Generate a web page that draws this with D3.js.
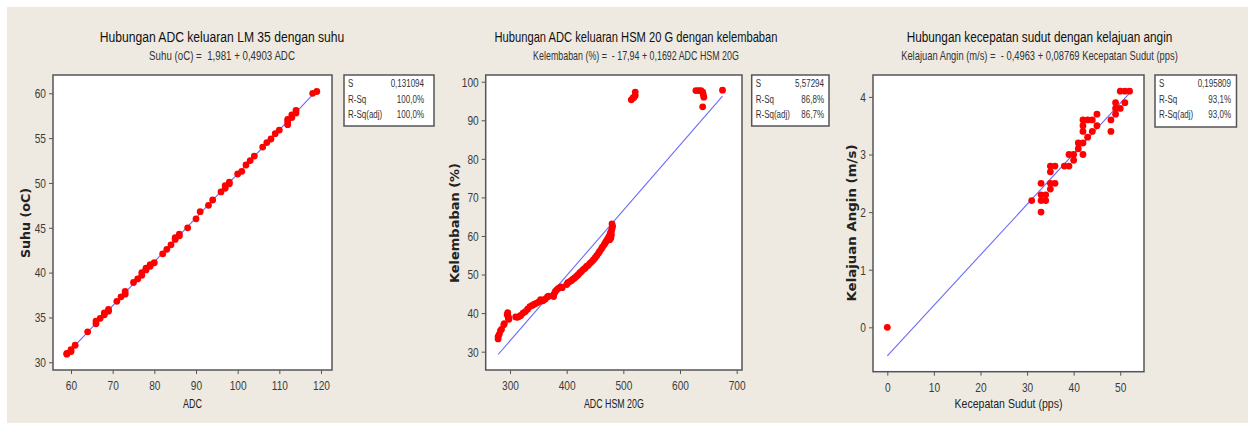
<!DOCTYPE html>
<html><head><meta charset="utf-8">
<script src="https://cdn.jsdelivr.net/npm/d3@7"></script>
<style>
html,body{margin:0;padding:0;background:#fff;}
svg{display:block;}
text.pre{white-space:pre;}
</style></head>
<body>
<svg id="c" width="1248" height="423"></svg>
<script>
// ---------- DATA ----------
// Panel 1: ADC LM35 vs Suhu
const adcLM35 = [59,59,60,60,61,64,66,66,67,68,68,69,69,71,72,73,73,75,76,77,77,78,78,79,79,80,82,83,84,85,85,86,86,88,90,91,93,94,96,97,97,98,98,100,101,102,103,104,106,107,108,109,110,112,112,112,113,113,114,114,118,119];
const suhu    = [30.9,31.0,31.2,31.4,31.9,33.4,34.3,34.6,34.9,35.3,35.5,35.7,35.9,36.8,37.3,37.6,37.9,38.9,39.3,39.7,40.0,40.3,40.5,40.7,40.9,41.1,42.1,42.6,43.1,43.7,43.9,44.1,44.3,45.0,46.0,46.8,47.5,48.1,49.0,49.4,49.7,49.9,50.1,51.0,51.3,52.0,52.5,53.0,54.0,54.5,54.9,55.5,55.9,56.5,56.8,57.1,57.3,57.6,57.8,58.1,60.0,60.2];
// Panel 2: ADC HSM 20G vs Kelembaban
const adcHSM = [279,279,281,283,285,289,290,295,296,297,298,297,
  310,313,316,319,323,327,331,335,339,343,347,351,354,358,362,366,368,
  377,378,380,383,386,390,392,
  400,402,405,408,411,414,417,420,423,426,429,432,435,438,441,444,447,450,453,456,458,461,463,466,468,470,472,474,476,477,479,480,481,480,478,476,479,
  514,517,519,521,521,
  628,633,637,640,641,642,640,675];
const kelembaban = [33.3,33.9,34.5,35.4,35.8,37.0,37.3,39.6,40.1,39.0,38.4,38.8,
  39.0,38.9,39.1,39.4,40.0,40.4,41.0,41.7,42.0,42.3,42.6,42.9,43.5,43.2,43.6,44.2,44.4,
  44.3,45.0,45.6,46.1,46.5,46.8,46.6,
  47.4,47.9,48.1,48.4,48.8,49.1,49.5,49.9,50.4,50.8,51.3,51.6,52.1,52.4,52.9,53.3,53.8,54.3,54.9,55.5,56.0,56.6,57.1,57.7,58.2,58.7,59.2,59.7,60.2,60.8,61.3,61.9,62.5,63.1,59.5,59.0,60.3,
  95.3,95.8,96.0,96.4,97.3,
  97.7,97.7,97.7,97.3,96.7,96.0,93.5,97.8];
// Panel 3: Kecepatan Sudut vs Kelajuan Angin
const kecepatan = [0,31,33,33,33,33,34,34,35,35,35,35,36,36,38,39,39,40,40,41,41,42,42,42,42,42,43,43,44,44,45,45,48,48,49,49,49,50,50,51,51,52];
const kelajuan  = [0,2.2,2.0,2.2,2.3,2.5,2.2,2.3,2.4,2.5,2.7,2.8,2.5,2.8,2.8,2.8,3.0,2.9,3.0,3.1,3.2,3.0,3.2,3.4,3.5,3.6,3.3,3.6,3.4,3.6,3.5,3.7,3.4,3.6,3.7,3.8,3.9,3.8,4.1,3.9,4.1,4.1];

// Regression coefficients (from the chart)
const fit1 = [1.981, 0.4903];
const fit2 = [-17.94, 0.1692];
const fit3 = [-0.4963, 0.08769];

// Tick values
const ticksX1 = [60,70,80,90,100,110,120];
const ticksY1 = [30,35,40,45,50,55,60];
const ticksX2 = [300,400,500,600,700];
const ticksY2 = [30,40,50,60,70,80,90,100];
const ticksX3 = [0,10,20,30,40,50];
const ticksY3 = [0,1,2,3,4];

// Texts
const titles = ["Hubungan ADC keluaran LM 35 dengan suhu","Hubungan ADC keluaran HSM 20 G dengan kelembaban","Hubungan kecepatan sudut dengan kelajuan angin"];
const subtitles = ["Suhu (oC) =  1,981 + 0,4903 ADC","Kelembaban (%) =  - 17,94 + 0,1692 ADC HSM 20G","Kelajuan Angin (m/s) =  - 0,4963 + 0,08769 Kecepatan Sudut (pps)"];
const xLabels = ["ADC","ADC HSM 20G","Kecepatan Sudut (pps)"];
const yLabels = ["Suhu (oC)","Kelembaban (%)","Kelajuan Angin (m/s)"];
const statNames = ["S","R-Sq","R-Sq(adj)"];
const stats1 = ["0,131094","100,0%","100,0%"];
const stats2 = ["5,57294","86,8%","86,7%"];
const stats3 = ["0,195809","93,1%","93,0%"];

// ---------- LAYOUT ----------
const panels = [
  {xs:adcLM35, ys:suhu, fit:fit1, tx:ticksX1, ty:ticksY1, stats:stats1,
   xd:[55.68,122.64], yd:[29.14,62.04], L:53, R:332, T:75, B:370,
   cx:222, tW:245, sW:146, xlW:19, ylX:25, ylW:70, box:[344,75,434,126], valR:424},
  {xs:adcHSM, ys:kelembaban, fit:fit2, tx:ticksX2, ty:ticksY2, stats:stats2,
   xd:[257.1,709.4], yd:[25.25,101.74], L:485.7, R:742, T:75, B:370,
   cx:636, tW:283, sW:206, xlW:60, ylX:454, ylW:120, box:[751.7,75,829,126], valR:824},
  {xs:kecepatan, ys:kelajuan, fit:fit3, tx:ticksX3, ty:ticksY3, stats:stats3,
   xd:[-3.07,55.1], yd:[-0.77,4.38], L:873, R:1144, T:75, B:371.7,
   cx:1039.5, tW:266, sW:277, xlW:108, ylX:851.5, ylW:157, box:[1155,75,1236.5,127], valR:1231}
];

const svg = d3.select("#c");
svg.append("rect").attr("x",0).attr("y",0).attr("width",1248).attr("height",423).attr("fill","#ffffff");
svg.append("rect").attr("x",7).attr("y",7).attr("width",1241).attr("height",416).attr("fill","#eeeae1");

const FONT = "'Liberation Sans', Arial, sans-serif";
const fmt = d3.format("~g");

// helper: draw centred text squeezed horizontally to a target width
function squeezed(g, str, cx, y, size, fill, target, cls){
  const t = g.append("text").attr("class",cls||null).attr("text-anchor","middle")
    .attr("font-family",FONT).attr("font-size",size).attr("fill",fill).text(str);
  const w = t.node().getComputedTextLength();
  const k = Math.min(1, target / w);
  t.attr("transform",`translate(${cx},${y}) scale(${k},1)`);
  return t;
}

panels.forEach((p,i)=>{
  const g = svg.append("g");
  const x = d3.scaleLinear().domain(p.xd).range([p.L,p.R]);
  const y = d3.scaleLinear().domain(p.yd).range([p.B,p.T]);

  // plot area
  g.append("rect").attr("x",p.L).attr("y",p.T).attr("width",p.R-p.L).attr("height",p.B-p.T)
    .attr("fill","#fff").attr("stroke","#555").attr("stroke-width",1.5);

  // axes
  const xa = g.append("g").attr("transform",`translate(0,${p.B})`)
    .call(d3.axisBottom(x).tickValues(p.tx).tickFormat(fmt).tickSize(4).tickSizeOuter(0).tickPadding(4));
  const ya = g.append("g").attr("transform",`translate(${p.L},0)`)
    .call(d3.axisLeft(y).tickValues(p.ty).tickFormat(fmt).tickSize(4).tickSizeOuter(0).tickPadding(3));
  [xa,ya].forEach(a=>{
    a.select(".domain").remove();
    a.selectAll("line").attr("stroke","#555");
    a.selectAll("text").attr("fill","#3a3a3a").attr("font-family",FONT).attr("font-size",13.5).attr("class","cond");
  });
  xa.selectAll("text").attr("dy","0.9em");

  // regression line
  const xmin = d3.min(p.xs), xmax = d3.max(p.xs);
  g.append("line")
    .attr("x1",x(xmin)).attr("y1",y(p.fit[0]+p.fit[1]*xmin))
    .attr("x2",x(xmax)).attr("y2",y(p.fit[0]+p.fit[1]*xmax))
    .attr("stroke","#6a6aff").attr("stroke-width",1.1);

  // points
  g.append("g").selectAll("circle").data(p.xs.map((v,k)=>[v,p.ys[k]])).join("circle")
    .attr("cx",d=>x(d[0])).attr("cy",d=>y(d[1])).attr("r",3.4).attr("fill","#ff0000");

  // titles
  squeezed(g, titles[i], p.cx, 41.5, 15, "#111", p.tW);
  squeezed(g, subtitles[i], p.cx, 59.5, 12, "#333", p.sW, "pre");

  // x label
  squeezed(g, xLabels[i], (p.L+p.R)/2, 407.5, 13, "#222", p.xlW);
  // y label
  g.append("text").attr("transform",`translate(${p.ylX+4.5},223) rotate(-90)`).attr("text-anchor","middle")
    .attr("font-family","'DejaVu Sans', Verdana, sans-serif").attr("font-weight","bold").attr("font-size",11.5).attr("fill","#222")
    .attr("textLength",p.ylW).attr("lengthAdjust","spacingAndGlyphs").text(yLabels[i]);

  // stats box
  const b = p.box;
  g.append("rect").attr("x",b[0]).attr("y",b[1]).attr("width",b[2]-b[0]).attr("height",b[3]-b[1])
    .attr("fill","#fff").attr("stroke","#555").attr("stroke-width",1.5);
  statNames.forEach((s,k)=>{
    g.append("text").attr("x",b[0]+4).attr("y",b[1]+12+k*15.5)
      .attr("font-family",FONT).attr("font-size",10).attr("fill","#333").attr("class","cond2").text(s);
    g.append("text").attr("x",p.valR).attr("y",b[1]+12+k*15.5).attr("text-anchor","end")
      .attr("font-family",FONT).attr("font-size",10).attr("fill","#333").attr("class","cond2").text(p.stats[k]);
  });
});

// condense tick / stat text to look like the narrow original font
svg.selectAll("text.cond").each(function(){
  const w = this.getComputedTextLength();
  d3.select(this).attr("textLength",w*0.75).attr("lengthAdjust","spacingAndGlyphs");
});
svg.selectAll("text.cond2").each(function(){
  const w = this.getComputedTextLength();
  d3.select(this).attr("textLength",w*0.8).attr("lengthAdjust","spacingAndGlyphs");
});
</script>
</body></html>
